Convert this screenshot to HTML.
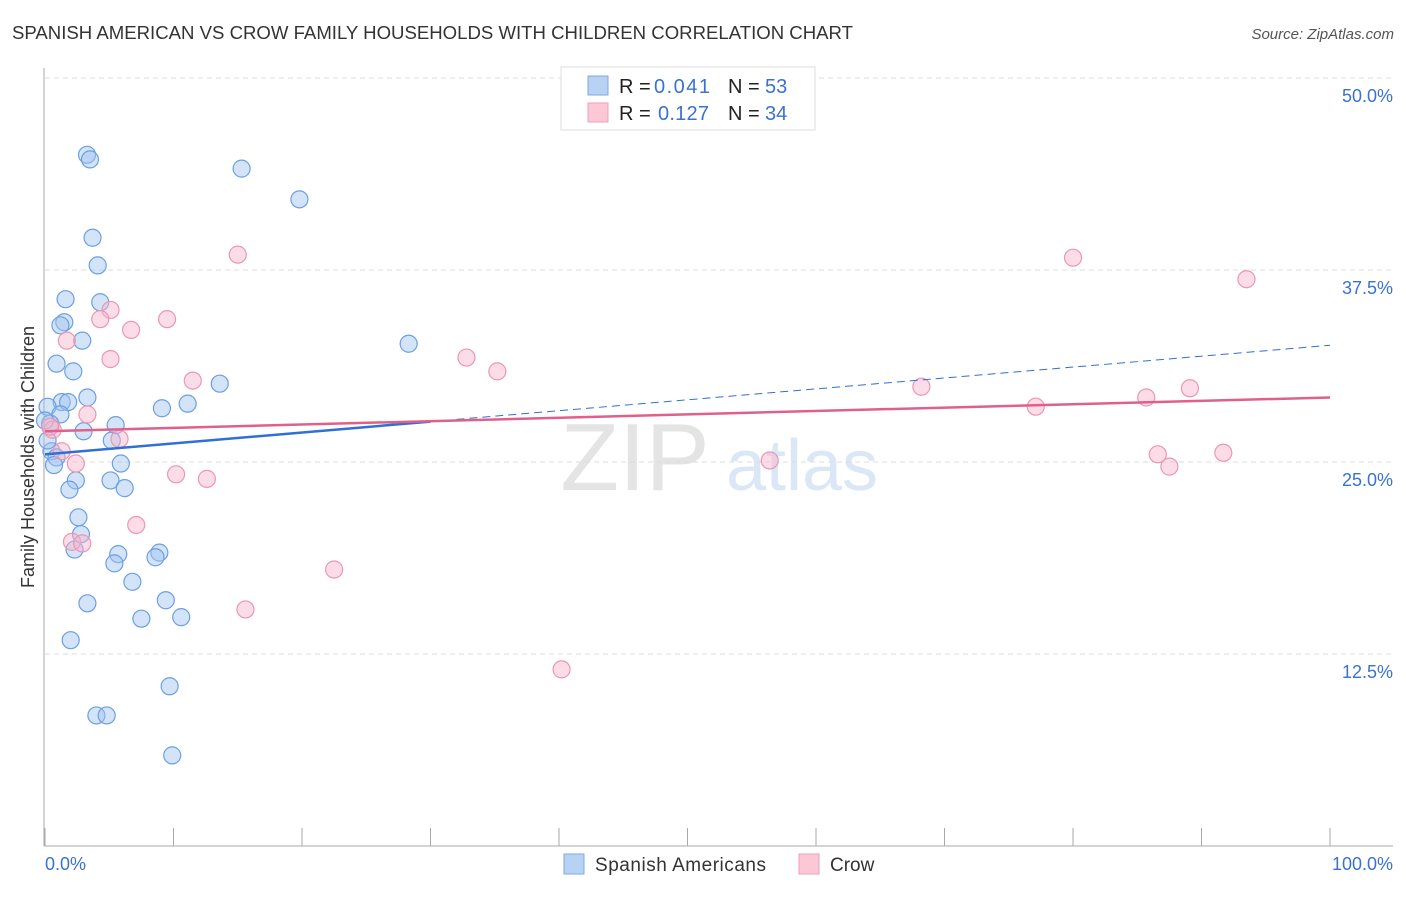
<!DOCTYPE html>
<html><head><meta charset="utf-8"><style>
body{margin:0;background:#fff;font-family:"Liberation Sans",sans-serif}
svg text{font-family:"Liberation Sans",sans-serif}
</style></head><body>
<svg id="chart" width="1406" height="892" xmlns="http://www.w3.org/2000/svg">
<text x="12" y="39" font-size="18" fill="#333" textLength="841" lengthAdjust="spacingAndGlyphs">SPANISH AMERICAN VS CROW FAMILY HOUSEHOLDS WITH CHILDREN CORRELATION CHART</text>
<text x="1394" y="39" font-size="15" fill="#555" font-style="italic" text-anchor="end">Source: ZipAtlas.com</text>
<text x="34" y="457" font-size="18" fill="#333" text-anchor="middle" transform="rotate(-90 34 457)">Family Households with Children</text>
<g><text x="635" y="490" font-size="96" fill="#e4e4e4" font-family="Liberation Serif" text-anchor="middle">ZIP</text><text x="802" y="490" font-size="72" fill="#dbe7f6" text-anchor="middle">atlas</text></g>
<g id="grid"></g><g id="axes"></g><g id="marks"></g>
<g>
<rect x="561" y="67" width="254" height="63" fill="#fff" stroke="#ddd"/>
<rect x="588" y="76" width="20" height="19" fill="#b8d2f4" stroke="#7fa8e0"/>
<rect x="588" y="103" width="20" height="19" fill="#fcc8d8" stroke="#eda0b8"/>
<text x="619" y="93" font-size="20" fill="#222">R =</text>
<text x="654" y="93" font-size="20" fill="#3a72d0" textLength="56">0.041</text>
<text x="728" y="93" font-size="20" fill="#222">N =</text>
<text x="765" y="93" font-size="20" fill="#3a72d0">53</text>
<text x="619" y="120" font-size="20" fill="#222">R =</text>
<text x="658" y="120" font-size="20" fill="#3a72d0" textLength="51">0.127</text>
<text x="728" y="120" font-size="20" fill="#222">N =</text>
<text x="765" y="120" font-size="20" fill="#3a72d0">34</text>
</g>
<g>
<rect x="564" y="854" width="20" height="20" fill="#b8d2f4" stroke="#7fa8e0"/>
<text x="595" y="871" font-size="19" fill="#333" textLength="171">Spanish Americans</text>
<rect x="799" y="854" width="20" height="20" fill="#fcc8d8" stroke="#eda0b8"/>
<text x="830" y="871" font-size="19" fill="#333">Crow</text>
</g>
</svg>
<script>
const blueX=[3.27,3.5,15.3,19.8,3.7,4.1,1.6,4.3,1.5,1.2,2.9,0.9,28.3,2.2,13.6,3.3,1.3,1.8,0.2,9.1,11.1,1.2,5.5,3.0,0.4,5.2,0.5,0.9,0.7,5.9,2.4,5.1,1.9,6.2,2.6,2.8,5.7,2.3,8.9,8.6,5.4,6.8,3.3,9.4,7.5,10.6,2.0,9.7,4.0,4.8,9.9,0,0.2];
const blueY=[45.0,44.7,44.1,42.1,39.6,37.8,35.6,35.4,34.1,33.9,32.9,31.4,32.7,30.9,30.1,29.2,28.9,28.9,28.6,28.5,28.8,28.1,27.4,27.0,27.5,26.4,25.7,25.3,24.8,24.9,23.8,23.8,23.2,23.3,21.4,20.3,19.0,19.3,19.1,18.8,18.4,17.2,15.8,16.0,14.8,14.9,13.4,10.4,8.5,8.5,5.9,27.7,26.4];
const pinkX=[15.0,80.0,93.5,5.1,4.3,9.5,6.7,1.7,5.1,32.8,35.2,11.5,68.2,89.1,85.7,77.1,3.3,0.6,5.8,1.3,86.6,91.7,56.4,2.4,87.5,10.2,12.6,7.1,2.1,2.9,22.5,15.6,40.2,0.4];
const pinkY=[38.5,38.3,36.9,34.9,34.3,34.3,33.6,32.9,31.7,31.8,30.9,30.3,29.9,29.8,29.2,28.6,28.1,27.1,26.5,25.7,25.5,25.6,25.1,24.9,24.7,24.2,23.9,20.9,19.8,19.7,18.0,15.4,11.5,27.3];
const blueTrend=[25.5,32.6];
const pinkTrend=[27.0,29.2];
const yTicks=[12.5,25,37.5,50];
const yTickLabels=["12.5%","25.0%","37.5%","50.0%"];
const xTicks=[0,10,20,30,40,50,60,70,80,90,100];

const NS="http://www.w3.org/2000/svg";
const sx=v=>45+v*12.85, sy=v=>846-v*15.36;
function mk(t,a,p){const e=document.createElementNS(NS,t);for(const k in a)e.setAttribute(k,a[k]);p.appendChild(e);return e;}
const grid=document.getElementById('grid'),axes=document.getElementById('axes'),marks=document.getElementById('marks');
yTicks.forEach((t,i)=>{
 const l=mk('line',{x1:45,x2:1393,y1:sy(t),y2:sy(t),stroke:'#ddd','stroke-dasharray':'5,4'},grid);
 
 
 const tx=mk('text',{x:1393,y:sy(t)+24,'font-size':18,fill:'#3a72d0','text-anchor':'end'},axes);
 tx.textContent=yTickLabels[i];
 
 
});
const ya=mk('line',{x1:44,x2:44,y1:68,y2:846,stroke:'#aaa'},axes);


const xa=mk('line',{x1:44,x2:1393,y1:846,y2:846,stroke:'#aaa'},axes);


xTicks.forEach(t=>{const l=mk('line',{x1:sx(t),x2:sx(t),y1:828,y2:846,stroke:'#aaa'},axes);
 
 });
const x0=mk('text',{x:45,y:870,'font-size':18,fill:'#3a72d0'},axes);x0.textContent='0.0%';


const x1=mk('text',{x:1393,y:870,'font-size':18,fill:'#3a72d0','text-anchor':'end'},axes);x1.textContent='100.0%';



blueX.forEach((x,i)=>{const c=mk('circle',{cx:sx(x),cy:sy(blueY[i]),r:8.5,fill:'rgba(160,196,240,0.45)',stroke:'#6c9fe2','stroke-width':1.2},marks);
 
 });
pinkX.forEach((x,i)=>{const c=mk('circle',{cx:sx(x),cy:sy(pinkY[i]),r:8.5,fill:'rgba(248,180,202,0.45)',stroke:'#eb97b2','stroke-width':1.2},marks);
 
 });
const bAt=v=>blueTrend[0]+(blueTrend[1]-blueTrend[0])*v/100;
const t1=mk('line',{x1:sx(0),y1:sy(bAt(0)),x2:sx(30),y2:sy(bAt(30)),stroke:'#2f6fd6','stroke-width':2.5},marks);


const t2=mk('line',{x1:sx(30),y1:sy(bAt(30)),x2:sx(100),y2:sy(bAt(100)),stroke:'#2f6fd6','stroke-width':1,'stroke-dasharray':'8,5'},marks);


const t3=mk('line',{x1:sx(0),y1:sy(pinkTrend[0]),x2:sx(100),y2:sy(pinkTrend[1]),stroke:'#e0608a','stroke-width':2.5},marks);


</script>
</body></html>
